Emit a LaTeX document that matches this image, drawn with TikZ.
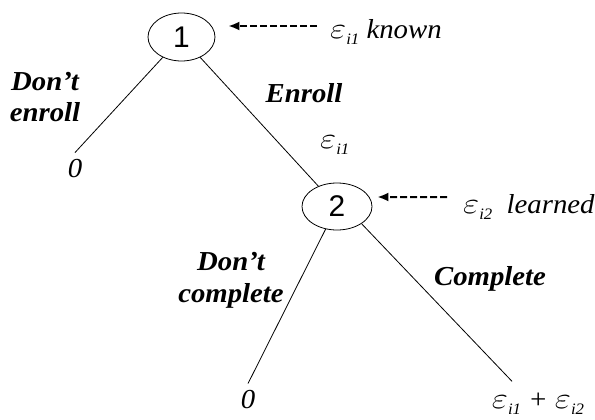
\documentclass[tikz,border=0pt]{standalone}
\usepackage{fontspec}
\setmainfont{Liberation Serif}
\newfontfamily\arialfont{Liberation Sans}
\usetikzlibrary{shapes.geometric,arrows.meta}
\newcommand\epsub[1]{\scalebox{1.35}[1.2]{$\varepsilon$}\raisebox{-0.25em}{\fontsize{16}{16}\selectfont i#1}}

\begin{document}
\begin{tikzpicture}[x=1bp, y=1bp,
	stage/.style={draw, ellipse, line width=0.8bp, inner sep=0pt, font=\arialfont\fontsize{30}{30}\selectfont},
	branch/.style={font=\fontsize{27.5}{32}\selectfont\bfseries\itshape, align=center, xscale=1.05},
	payoff/.style={font=\fontsize{27.5}{28}\selectfont\itshape, inner sep=7bp, xscale=1.05},
	note/.style={font=\fontsize{27.5}{28}\selectfont\itshape, inner sep=0pt, xscale=1.05},
	edge/.style={line width=0.8bp},
	infoarrow/.style={line width=2bp, dash pattern=on 7bp off 3bp, -{Latex[length=11bp,width=9bp]}}]
			%%%%% FRAME %%%%%
			\useasboundingbox (0,0) rectangle (595,419);
			
			%%%%% DECISION NODES %%%%%
			\node[stage, minimum width=67bp, minimum height=48bp] (n1) at (181.5, 382) {1};
			\node[stage, minimum width=70bp, minimum height=47bp] (n2) at (337, 212.5) {2};
			
			%%%%% PAYOFFS %%%%%
			\node[payoff] (z1) at (75, 250) {0};
			\node[payoff] (z2) at (248, 19) {0};
			\node[payoff, anchor=base] (z3) at (538, 11) {\epsub{1} + \epsub{2}};
			
			%%%%% BRANCHES %%%%%
			\draw[edge] (n1) -- (z1.north);
			\draw[edge] (n1) -- (n2);
			\draw[edge] (n2) -- (z2.north);
			\draw[edge] (n2.-35) -- ([shift={(-26,4)}]z3.north);
			
			\node[branch] (b1) at (45, 322) {Don’t\\enroll};
			\node[branch, anchor=base] (b2) at (304, 317) {Enroll};
			\node[branch] (b3) at (231, 139) {Don’t\\complete};
			\node[branch, anchor=base] (b4) at (490, 134) {Complete};
			\node[note, anchor=base west] (e1) at (320, 271) {\epsub{1}};
			
			%%%%% INFORMATION %%%%%
			\node[note, anchor=base west] (k1) at (330, 381) {\epsub{1} known};
			\node[note, anchor=base west] (k2) at (463, 206) {\epsub{2}\ \ learned};
			\draw[infoarrow] ([shift={(-13,12)}]k1.base west) -- ([shift={(13,11)}]n1.east);
			\draw[infoarrow] ([shift={(-16,16)}]k2.base west) -- ([shift={(5,9.5)}]n2.east);
			
			%%%%% END %%%%%
\end{tikzpicture}
\end{document}
